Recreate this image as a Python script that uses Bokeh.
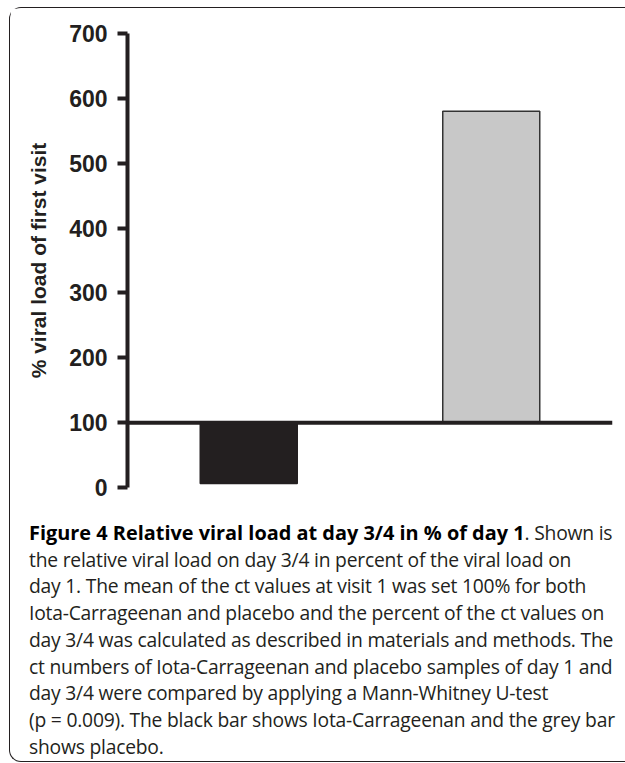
from bokeh.plotting import figure
from bokeh.models import ColumnDataSource, Span, FixedTicker, Range1d, FactorRange, Div
from bokeh.layouts import column
from bokeh.embed import file_html
from bokeh.resources import INLINE

# ---- data ----
groups = ["Iota-Carrageenan", "Placebo"]
viral_load_pct = [6, 580]          # % viral load of first visit (day 3/4)
baseline = [100, 100]              # visit 1 set to 100%
bar_colors = ["#231f20", "#c8c8c8"]
bar_lines = ["#231f20", "#333333"]
y_ticks = [0, 100, 200, 300, 400, 500, 600, 700]

src = ColumnDataSource(dict(g=groups, v=viral_load_pct, b=baseline,
                            c=bar_colors, lc=bar_lines))

INK = "#231f20"

p = figure(x_range=FactorRange(*groups, range_padding=0),
           y_range=Range1d(0, 700),
           width=607, height=507,
           output_backend="svg", toolbar_location=None,
           min_border_left=117, min_border_right=5,
           min_border_top=25, min_border_bottom=28)
p.outline_line_color = None
p.grid.visible = False
p.xaxis.visible = False

p.vbar(x="g", bottom="b", top="v", width=0.4, source=src,
       fill_color="c", line_color="lc", line_width=1.5)

p.add_layout(Span(location=baseline[0], dimension="width",
                  line_color=INK, line_width=4))

ya = p.yaxis[0]
ya.ticker = FixedTicker(ticks=y_ticks)
ya.minor_tick_line_color = None
ya.axis_line_width = 4
ya.axis_line_color = INK
ya.major_tick_line_width = 4
ya.major_tick_line_color = INK
ya.major_tick_out = 10
ya.major_tick_in = 0
ya.major_label_text_font = "Liberation Sans"
ya.major_label_text_font_style = "bold"
ya.major_label_text_font_size = "23px"
ya.major_label_text_color = INK
ya.major_label_standoff = 10
ya.axis_label = "% viral load of first visit"
ya.axis_label_text_font = "Liberation Sans"
ya.axis_label_text_font_style = "bold"
ya.axis_label_text_font_size = "21px"
ya.axis_label_text_color = INK
ya.axis_label_standoff = 16

lines = [
    "<b style='color:#000;font-size:19.9px;letter-spacing:0'>Figure 4 Relative viral load at day 3/4 in % of day 1</b>. Shown is",
    "the relative viral load on day 3/4 in percent of the viral load on",
    "day 1. The mean of the ct values at visit 1 was set 100% for both",
    "Iota-Carrageenan and placebo and the percent of the ct values on",
    "day 3/4 was calculated as described in materials and methods. The",
    "ct numbers of Iota-Carrageenan and placebo samples of day 1 and",
    "day 3/4 were compared by applying a Mann-Whitney U-test",
    "(p = 0.009). The black bar shows Iota-Carrageenan and the grey bar",
    "shows placebo.",
]
html = ("<div style=\"font-family:'Open Sans';font-size:19.3px;line-height:26.7px;"
        "color:#231f20;white-space:nowrap;padding-left:14px;letter-spacing:-0.22px\">"
        + "<br>".join(lines) + "</div>")
cap = Div(text=html, width=607, height=240)

layout = column(p, cap, width=616, height=755, spacing=0, margin=(7, 0, 0, 9),
                styles={"border": "1.5px solid #231f20", "border-right": "none",
                        "border-radius": "12px 0 0 12px", "background": "white"})

open("out.html", "w").write(file_html(layout, INLINE))
